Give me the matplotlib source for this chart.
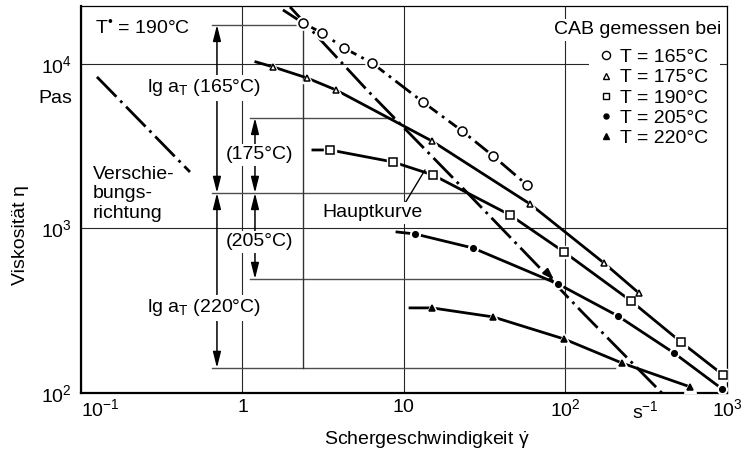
import numpy as np
import matplotlib
matplotlib.use('Agg')
import matplotlib.pyplot as plt
from matplotlib.lines import Line2D

plt.rcParams['font.family'] = ['Liberation Sans', 'DejaVu Sans']
plt.rcParams['mathtext.fontset'] = 'custom'
plt.rcParams['mathtext.rm'] = 'Liberation Sans'
plt.rcParams['mathtext.it'] = 'Liberation Sans:italic'
plt.rcParams['mathtext.bf'] = 'Liberation Sans:bold'
plt.rcParams['mathtext.sf'] = 'Liberation Sans'

# measured curves (shear rate in 1/s, viscosity in Pas)
temps = [165, 175, 190, 205, 220]
shear_165 = [2.37, 3.11, 4.25, 6.34, 13.1, 22.9, 35.6, 57.8]
eta_165 = [17750, 15430, 12500, 10140, 5870, 3915, 2760, 1838]
shear_175 = [1.55, 2.51, 3.79, 14.9, 60.3, 173, 285]
eta_175 = [9590, 8220, 6950, 3400, 1409, 617, 405]
shear_190 = [3.48, 8.55, 15.1, 45.3, 97.9, 255, 519, 944]
eta_190 = [3000, 2537, 2115, 1208, 720, 362, 204, 129]
shear_205 = [11.7, 26.7, 89.9, 211, 470, 931]
eta_205 = [926, 761, 460, 294, 175, 106]
shear_220 = [14.9, 35.6, 97.9, 224, 590]
eta_220 = [329, 290, 213, 152, 109]

# where each drawn curve starts (a bit before its first point)
lead_x = [1.78, 1.21, 2.73, 9.05, 10.9]
lead_eta = [21300, 10290, 3000, 952, 329]

# master curve (Hauptkurve) at T* = 190 C
master_x = [1.97, 5.90, 19.3, 66.6, 126.5, 395]
master_eta = [22200, 6950, 2115, 600, 311, 100]

# shift direction sample line
shift_x = [0.1256, 0.473]
shift_eta = [8340, 2205]

# shift levels and the x positions of the lg a_T arrows
level_eta = {165: 17270, 175: 4700, 190: 1644, 205: 493, 220: 142}
arrow_x_outer = 0.695
arrow_x_inner = 1.195

x_ticks = [0.1, 1, 10, 100, 1000]
x_tick_labels = ['$10^{-1}$', '$1$', '$10$', '$10^{2}$', '$10^{3}$']
y_ticks = [100, 1000, 10000]
y_tick_labels = ['$10^{2}$', '$10^{3}$', '$10^{4}$']

fig = plt.figure(figsize=(7.47, 4.55), dpi=100)
ax = fig.add_axes([0.1084, 0.1363, 0.8648, 0.8505])
ax.set_xscale('log')
ax.set_yscale('log')
ax.set_xlim(0.1, 1000)
ax.set_ylim(100, 22500)
ax.set_xticks(x_ticks, x_tick_labels)
ax.set_yticks(y_ticks, y_tick_labels)
ax.xaxis.set_minor_locator(matplotlib.ticker.NullLocator())
ax.yaxis.set_minor_locator(matplotlib.ticker.NullLocator())
ax.tick_params(length=0, labelsize=14)
ax.tick_params(axis='x', pad=4)
ax.tick_params(axis='y', pad=6.5)
ax.get_xticklabels()[0].set_ha('left')
ax.grid(True, color='0.15', lw=0.8, zorder=0.5)
ax.set_axisbelow(True)
for s in ['left', 'bottom']:
    ax.spines[s].set_linewidth(1.6)
for s in ['top', 'right']:
    ax.spines[s].set_linewidth(0.9)

dashdot = [10, 2, 1, 2]
markers = ['o', '^', 's', 'o', '^']
fills = ['white', 'white', 'white', 'k', 'k']
sizes = [6.5, 4.5, 5.5, 4, 5]
data = [(shear_165, eta_165), (shear_175, eta_175), (shear_190, eta_190),
        (shear_205, eta_205), (shear_220, eta_220)]

for i, (sx, se) in enumerate(data):
    lx = [lead_x[i]] + sx
    le = [lead_eta[i]] + se
    if i == 0:
        ax.plot(lx, le, color='k', lw=2, dashes=[7, 2, 1, 2], zorder=4)
    else:
        ax.plot(lx, le, color='k', lw=2, zorder=4)
    ax.plot(sx, se, ls='none', marker=markers[i], ms=sizes[i] + 3,
            mfc='white', mec='white', zorder=4.5)
    ax.plot(sx, se, ls='none', marker=markers[i], ms=sizes[i],
            mfc=fills[i], mec='k', mew=1.1, zorder=5)

ax.plot(master_x, master_eta, color='k', lw=2, dashes=dashdot, zorder=4)
ax.plot(shift_x, shift_eta, color='k', lw=2, dashes=dashdot, zorder=4)

# arrow head on master curve at the 205 C point
ax.annotate('', xy=(shear_205[2], eta_205[2]),
            xytext=(shear_205[2] / 1.12, eta_205[2] * 1.12),
            arrowprops=dict(arrowstyle='-|>,head_length=0.6,head_width=0.2',
                            color='k', lw=1.5, mutation_scale=11,
                            shrinkA=0, shrinkB=4), zorder=5)

# shift levels: horizontal lines up to the master curve
lm_x = np.log10(master_x)[::-1]
lm_e = np.log10(master_eta)[::-1]


def master_at(eta):
    return 10 ** np.interp(np.log10(eta), lm_e, lm_x)


ax.plot([arrow_x_outer / 1.07, shear_165[0]], [level_eta[165]] * 2,
        color='0.3', lw=1, zorder=1)
ax.plot([arrow_x_inner / 1.07, master_at(level_eta[175])], [level_eta[175]] * 2,
        color='0.3', lw=1, zorder=1)
ax.plot([arrow_x_outer / 1.07, master_at(level_eta[190])], [level_eta[190]] * 2,
        color='0.3', lw=1, zorder=1)
ax.plot([arrow_x_inner / 1.07, master_at(level_eta[205])], [level_eta[205]] * 2,
        color='0.3', lw=1, zorder=1)
ax.plot([arrow_x_outer / 1.07, master_at(level_eta[220]) / 1.25], [level_eta[220]] * 2,
        color='0.3', lw=1, zorder=1)
ax.plot([shear_165[0]] * 2, [level_eta[165], level_eta[220]],
        color='0.2', lw=1, zorder=1)

arrow_style = dict(arrowstyle='<|-|>,head_length=0.8,head_width=0.2',
                   color='k', lw=1.1, mutation_scale=12, shrinkA=0, shrinkB=0)
for x, t1, t2 in [(arrow_x_outer, 165, 190), (arrow_x_outer, 190, 220),
                  (arrow_x_inner, 175, 190), (arrow_x_inner, 190, 205)]:
    ax.annotate('', xy=(x, level_eta[t2]), xytext=(x, level_eta[t1]),
                arrowprops=arrow_style, zorder=2)

white = dict(fc='white', ec='none', pad=1.5)
fs = 14
ax.text(0.122, 16560, 'T$^{•}$ = 190°C', fontsize=fs, ha='left', va='center', zorder=6)
ax.text(0.578, 7150, r'lg a$_{\mathrm{T}}$ (165°C)', fontsize=fs, ha='center',
        va='center', bbox=white, zorder=6)
ax.text(1.28, 2800, '(175°C)', fontsize=fs, ha='center', va='center', bbox=white, zorder=6)
ax.text(1.28, 828, '(205°C)', fontsize=fs, ha='center', va='center', bbox=white, zorder=6)
ax.text(0.578, 329, r'lg a$_{\mathrm{T}}$ (220°C)', fontsize=fs, ha='center',
        va='center', bbox=white, zorder=6)
ax.text(0.1186, 1622, 'Verschie-\nbungs-\nrichtung', fontsize=fs, ha='left',
        va='center', linespacing=1.2, zorder=6)
ax.annotate('Hauptkurve', xy=(13.5, 2270), xytext=(3.11, 1243), fontsize=fs,
            ha='left', va='center', bbox=white, zorder=6,
            arrowprops=dict(arrowstyle='-', color='k', lw=1, relpos=(0.82, 1.0),
                            shrinkA=0, shrinkB=0))

# units
ax.text(-0.0139, 0.760, 'Pas', fontsize=fs, ha='right', va='center', transform=ax.transAxes)
ax.text(311, -0.018, '$\\mathrm{s}^{-1}$', fontsize=fs, ha='center', va='top',
        transform=ax.get_xaxis_transform())

ax.set_xlabel(r'Schergeschwindigkeit $\dot{\mathrm{\gamma}}$', fontsize=fs, va='center')
ax.xaxis.set_label_coords(0.536, -0.121)
ax.set_ylabel('Viskosität η', fontsize=fs, va='center')
ax.yaxis.set_label_coords(-0.093, 0.408)

# legend
handles = [Line2D([], [], ls='none', marker=markers[i], ms=sizes[i] * 0.9,
                  mfc=fills[i], mec='k', mew=1) for i in range(len(temps))]
labels = [f'T = {t}°C' for t in temps]
leg = ax.legend(handles, labels, loc='upper right', bbox_to_anchor=(0.989, 0.92),
                fontsize=fs, frameon=True, facecolor='white', edgecolor='none',
                framealpha=1, fancybox=False, borderpad=0.6, labelspacing=0.13,
                handlelength=0.6, handletextpad=0.4, borderaxespad=0)
leg.set_zorder(7)
ax.text(0.992, 0.938, 'CAB gemessen bei', fontsize=fs, ha='right', va='center',
        transform=ax.transAxes, bbox=white, zorder=8)

fig.savefig('out.png', dpi=100)
